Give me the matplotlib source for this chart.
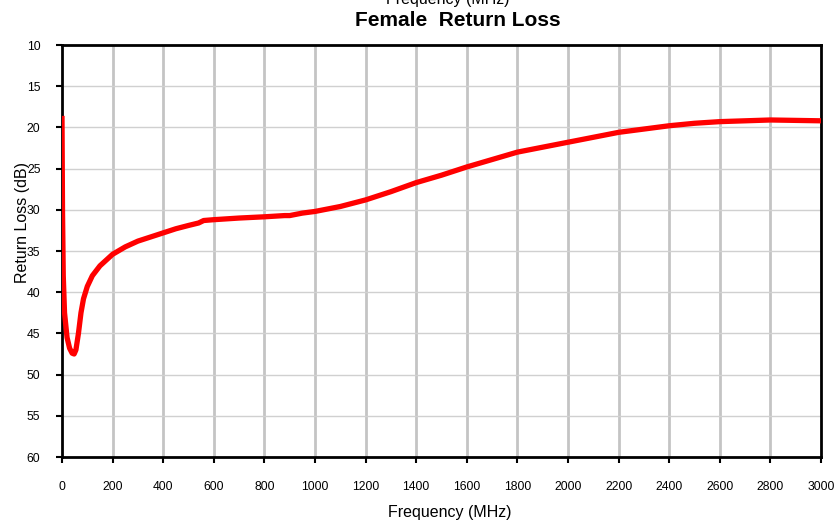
import numpy as np
import matplotlib
matplotlib.use('Agg')
import matplotlib.pyplot as plt

plt.rcParams['font.family'] = ['Liberation Sans', 'DejaVu Sans']

# Datos
freq = [0, 2, 5, 10, 20, 30, 40, 48, 55, 65, 75, 85, 100, 120, 150, 200,
        250, 300, 350, 400, 450, 500, 540, 560, 600, 700, 800, 880, 900,
        950, 1000, 1100, 1200, 1300, 1400, 1500, 1600, 1700, 1800, 1900,
        2000, 2100, 2200, 2300, 2400, 2500, 2600, 2700, 2800, 2900, 3000]
rl = [18.6, 30, 38, 42.5, 45.5, 46.8, 47.4, 47.5, 47.0, 45.0, 42.5, 40.8,
      39.3, 38.0, 36.8, 35.4, 34.5, 33.8, 33.3, 32.8, 32.3, 31.9, 31.6,
      31.3, 31.2, 31.0, 30.85, 30.7, 30.7, 30.4, 30.2, 29.6, 28.8, 27.8,
      26.7, 25.8, 24.8, 23.9, 23.0, 22.4, 21.8, 21.2, 20.6, 20.2, 19.8,
      19.5, 19.3, 19.2, 19.1, 19.15, 19.2]
x_ticks = list(range(0, 3001, 200))
y_ticks = list(range(10, 61, 5))

W, H = 834, 521
fig = plt.figure(figsize=(W / 100, H / 100), dpi=100)
ax = fig.add_axes([62 / W, (H - 457) / H, (821 - 62) / W, (457 - 45) / H])

# Rejilla
for xv in x_ticks[1:-1]:
    ax.axvline(xv, color='#c4c4c4', lw=2.0, zorder=1)
for yv in y_ticks[1:-1]:
    ax.axhline(yv, color='#d0d0d0', lw=1.0, zorder=1)

ax.plot(freq, rl, color='#ff0000', lw=3.8, solid_capstyle='butt', zorder=3)

ax.set_xlim(0, 3000)
ax.set_ylim(60, 10)
ax.set_xticks(x_ticks)
ax.set_yticks(y_ticks)
ax.tick_params(axis='both', direction='out', length=4, width=1.5,
               labelsize=8.7, colors='black')
ax.tick_params(axis='x', pad=13)
ax.tick_params(axis='y', pad=11.5)
for s in ax.spines.values():
    s.set_linewidth(2)
    s.set_color('black')

fig.text(448 / W, 1 - 4 / H, 'Frequency (MHz)', ha='center', va='baseline',
         fontsize=11.5)
fig.text(458 / W, 1 - 20 / H, 'Female  Return Loss', ha='center', va='center',
         fontsize=15, fontweight='bold')
fig.text(450 / W, 1 - 512 / H, 'Frequency (MHz)', ha='center', va='center',
         fontsize=11.5)
fig.text(22.5 / W, 1 - 222 / H, 'Return Loss (dB)', ha='center', va='center',
         fontsize=11.5, rotation=90)

fig.savefig('out.png', dpi=100)
